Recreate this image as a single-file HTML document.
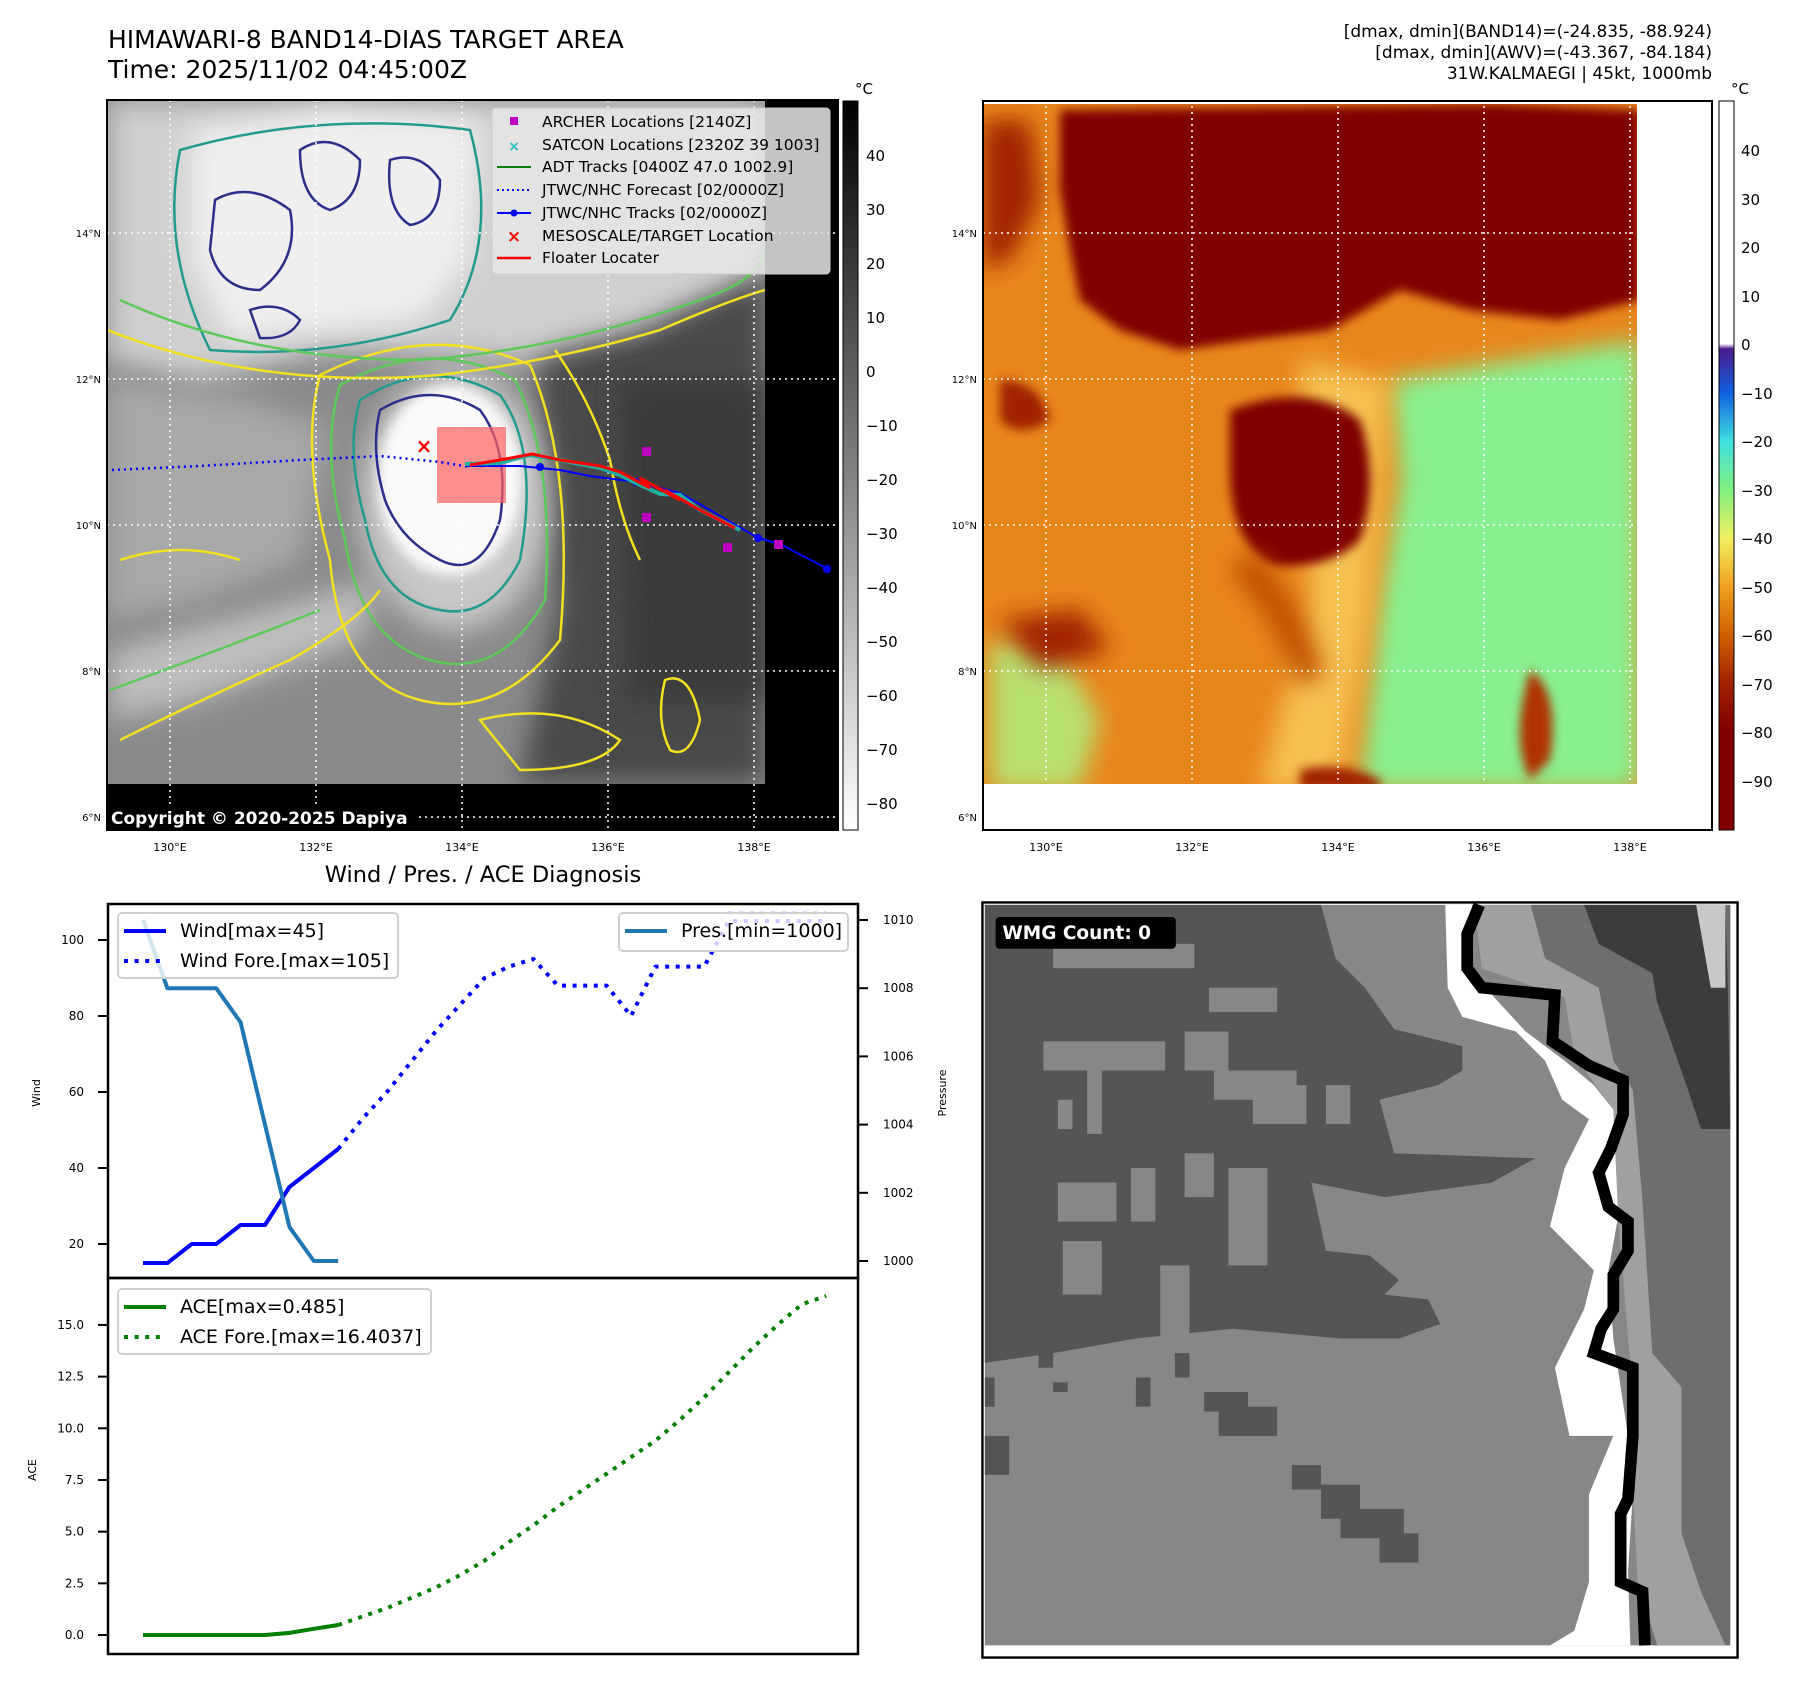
<!DOCTYPE html>
<html><head><meta charset="utf-8">
<style>
html,body{margin:0;padding:0;background:#fff;}
#root{position:relative;width:1801px;height:1690px;overflow:hidden;font-family:"DejaVu Sans","Liberation Sans",sans-serif;color:#000;}
.abs{position:absolute;white-space:nowrap;}
svg{position:absolute;overflow:visible;}
</style></head>
<body>
<div id="root">

<div class="abs" style="left:108px;top:25px;font-size:25px;line-height:30px;">HIMAWARI-8 BAND14-DIAS TARGET AREA<br>Time: 2025/11/02 04:45:00Z</div>
<div class="abs" style="right:89px;top:22px;font-size:17px;line-height:21px;text-align:right;">[dmax, dmin](BAND14)=(-24.835, -88.924)<br>[dmax, dmin](AWV)=(-43.367, -84.184)<br>31W.KALMAEGI | 45kt, 1000mb</div>

<!-- MAP 1 -->
<svg style="left:0;top:0" width="1801" height="900" viewBox="0 0 1801 900">
<defs>
<clipPath id="c1"><rect x="107" y="100" width="658" height="684"/></clipPath>
<filter id="b6" x="-50%" y="-50%" width="200%" height="200%"><feGaussianBlur stdDeviation="6"/></filter>
<filter id="b14" x="-50%" y="-50%" width="200%" height="200%"><feGaussianBlur stdDeviation="14"/></filter>
<linearGradient id="cb1" x1="0" y1="0" x2="0" y2="1"><stop offset="0" stop-color="#000"/><stop offset="1" stop-color="#fff"/></linearGradient>
</defs>
<rect x="107" y="100" width="731" height="730" fill="#000"/>
<g clip-path="url(#c1)">
<rect x="107" y="100" width="658" height="684" fill="#8a8a8a"/>
<path d="M540 300 L765 260 L765 784 L520 784 L560 600 L540 470 Z" fill="#4a4a4a" filter="url(#b14)"/>
<path d="M620 380 L765 380 L765 700 L630 700 Z" fill="#3a3a3a" filter="url(#b14)"/>
<path d="M107 100 L765 100 L765 270 L640 330 L520 360 L330 350 L200 380 L107 360 Z" fill="#cfcfcf" filter="url(#b14)"/>
<path d="M190 130 L330 110 L480 120 L470 260 L420 320 L330 330 L230 340 L190 260 Z" fill="#efefef" filter="url(#b14)"/>
<ellipse cx="455" cy="500" rx="95" ry="130" fill="#c8c8c8" filter="url(#b14)"/>
<ellipse cx="450" cy="480" rx="72" ry="95" fill="#fafafa" filter="url(#b6)"/>
<path d="M110 650 L300 600 L380 580 L360 640 L200 700 L110 720 Z" fill="#bdbdbd" filter="url(#b14)"/>
<path d="M107 380 L250 400 L330 430 L300 560 L200 600 L107 620 Z" fill="#a8a8a8" filter="url(#b14)"/>
<g fill="none" stroke-width="2.5">
<path d="M380 410 Q430 380 480 410 Q510 450 500 520 Q480 580 440 560 Q400 540 385 500 Q370 450 380 410 Z" stroke="#2b2f8a"/>
<path d="M360 400 Q430 355 500 395 Q540 450 520 560 Q490 620 440 610 Q380 600 365 520 Q345 450 360 400 Z" stroke="#239a8e"/>
<path d="M340 385 Q430 335 515 380 Q555 460 545 600 Q500 680 430 660 Q360 640 345 540 Q320 450 340 385 Z" stroke="#5ec85a"/>
<path d="M320 375 Q430 320 530 365 Q575 470 560 640 Q500 720 420 700 Q340 680 330 560 Q300 450 320 375 Z" stroke="#f5e020"/>
<path d="M215 200 Q250 180 290 210 Q300 260 260 290 Q220 290 210 250 Z" stroke="#2b2f8a"/>
<path d="M300 150 Q330 130 360 160 Q360 200 330 210 Q300 200 300 150 Z" stroke="#2b2f8a"/>
<path d="M390 160 Q420 150 440 180 Q440 220 410 225 Q385 210 390 160 Z" stroke="#2b2f8a"/>
<path d="M250 310 Q280 300 300 320 Q290 340 260 338 Z" stroke="#2b2f8a"/>
<path d="M180 150 Q320 110 470 130 Q500 240 450 320 Q330 360 210 350 Q160 250 180 150 Z" stroke="#239a8e"/>
<path d="M120 300 Q250 360 420 360 Q560 350 700 300 Q760 280 765 250" stroke="#5ec85a"/>
<path d="M107 330 Q260 390 440 375 Q560 360 660 330 Q730 300 765 290" stroke="#f5e020"/>
<path d="M555 350 Q590 400 610 460 Q620 520 640 560" stroke="#f5e020"/>
<path d="M120 740 Q200 700 290 660 Q360 620 380 590" stroke="#f5e020"/>
<path d="M110 690 Q220 650 320 610" stroke="#5ec85a"/>
<path d="M480 720 Q560 700 620 740 Q600 770 520 770 Z" stroke="#f5e020"/>
<path d="M665 680 Q690 670 700 720 Q690 760 670 750 Q655 720 665 680 Z" stroke="#f5e020"/>
<path d="M120 560 Q180 540 240 560" stroke="#f5e020"/>
</g>
</g>
<g stroke="#fff" stroke-width="1.5" stroke-dasharray="2 4">
<line x1="170" y1="100" x2="170" y2="830"/><line x1="316" y1="100" x2="316" y2="830"/><line x1="462" y1="100" x2="462" y2="830"/><line x1="608" y1="100" x2="608" y2="830"/><line x1="754" y1="100" x2="754" y2="830"/>
<line x1="107" y1="233" x2="838" y2="233"/><line x1="107" y1="379" x2="838" y2="379"/><line x1="107" y1="525" x2="838" y2="525"/><line x1="107" y1="671" x2="838" y2="671"/><line x1="107" y1="817" x2="838" y2="817"/>
</g>
<rect x="437" y="427" width="69" height="76" fill="#ff6060" opacity="0.7"/>
<path d="M112 470 L200 466 L300 460 L380 456 L440 462 L470 467" fill="none" stroke="#0000ff" stroke-width="2.5" stroke-dasharray="2 4"/>
<path d="M465 466 L520 466 L560 470 L590 476 L636 482 L680 493 L710 510 L758 538 L780 544 L830 570" fill="none" stroke="#0000ff" stroke-width="2"/>
<g fill="#0000ff"><circle cx="540" cy="467" r="4"/><circle cx="636" cy="482" r="4"/><circle cx="758" cy="538" r="4"/><circle cx="827" cy="569" r="4"/></g>
<path d="M465 464 L500 463 L530 455 L560 460 L600 468 L620 475 L640 485 L660 494 L680 495 L700 510 L740 530" fill="none" stroke="#20b0a0" stroke-width="4"/>
<path d="M470 465 L500 460 L532 454 L560 460 L600 466 L620 472 L650 488 L640 478 L680 500 L665 490 L700 510 L735 528" fill="none" stroke="#ff0000" stroke-width="3"/>
<text x="424" y="453" fill="#ff0000" font-size="20" font-weight="bold" text-anchor="middle">×</text>
<g fill="#c000c0"><rect x="642" y="447" width="9" height="9"/><rect x="642" y="513" width="9" height="9"/><rect x="723" y="543" width="9" height="9"/><rect x="774" y="540" width="9" height="9"/></g>
<g>
<rect x="492" y="108" width="338" height="166" rx="4" fill="#e6e6e6" fill-opacity="0.85" stroke="#ccc"/>
<rect x="510" y="117" width="8" height="8" fill="#c000c0"/>
<text x="514" y="151" fill="#20c0c0" font-size="14" font-weight="bold" text-anchor="middle">×</text>
<line x1="497" y1="167" x2="531" y2="167" stroke="#008000" stroke-width="2"/>
<line x1="497" y1="190" x2="531" y2="190" stroke="#0000ff" stroke-width="2" stroke-dasharray="2 3"/>
<line x1="497" y1="213" x2="531" y2="213" stroke="#0000ff" stroke-width="2"/><circle cx="514" cy="213" r="3.5" fill="#0000ff"/>
<text x="514" y="242" fill="#ff0000" font-size="17" font-weight="bold" text-anchor="middle">×</text>
<line x1="497" y1="258" x2="531" y2="258" stroke="#ff0000" stroke-width="2.5"/>
<g font-size="15.5" fill="#000">
<text x="542" y="127">ARCHER Locations [2140Z]</text>
<text x="542" y="150">SATCON Locations [2320Z 39 1003]</text>
<text x="542" y="172">ADT Tracks [0400Z 47.0 1002.9]</text>
<text x="542" y="195">JTWC/NHC Forecast [02/0000Z]</text>
<text x="542" y="218">JTWC/NHC Tracks [02/0000Z]</text>
<text x="542" y="241">MESOSCALE/TARGET Location</text>
<text x="542" y="263">Floater Locater</text>
</g></g>
<rect x="107" y="804" width="310" height="26" fill="#000"/>
<text x="111" y="824" fill="#fff" font-size="17" font-weight="bold">Copyright © 2020-2025 Dapiya</text>
<rect x="107" y="100" width="731" height="730" fill="none" stroke="#000" stroke-width="2"/>
<g font-size="10" text-anchor="end"><text x="101" y="237">14°N</text><text x="101" y="383">12°N</text><text x="101" y="529">10°N</text><text x="101" y="675">8°N</text><text x="101" y="821">6°N</text></g>
<g font-size="11" text-anchor="middle"><text x="170" y="851">130°E</text><text x="316" y="851">132°E</text><text x="462" y="851">134°E</text><text x="608" y="851">136°E</text><text x="754" y="851">138°E</text></g>
<rect x="843" y="101" width="15" height="729" fill="url(#cb1)" stroke="#000" stroke-width="1"/>
<text x="855" y="94" font-size="15">°C</text>
<g font-size="15">
<text x="866" y="161">40</text><text x="866" y="215">30</text><text x="866" y="269">20</text><text x="866" y="323">10</text><text x="866" y="377">0</text><text x="866" y="431">−10</text><text x="866" y="485">−20</text><text x="866" y="539">−30</text><text x="866" y="593">−40</text><text x="866" y="647">−50</text><text x="866" y="701">−60</text><text x="866" y="755">−70</text><text x="866" y="809">−80</text></g>
</svg>

<!-- MAP 2 -->
<svg style="left:0;top:0" width="1801" height="900" viewBox="0 0 1801 900">
<defs>
<clipPath id="c2"><rect x="983" y="104" width="654" height="680"/></clipPath>
<filter id="b2" x="-50%" y="-50%" width="200%" height="200%"><feGaussianBlur stdDeviation="12"/></filter>
<filter id="b3" x="-50%" y="-50%" width="200%" height="200%"><feGaussianBlur stdDeviation="5"/></filter>
<linearGradient id="cb2" x1="0" y1="0" x2="0" y2="1">
<stop offset="0" stop-color="#fff"/><stop offset="0.333" stop-color="#fff"/><stop offset="0.34" stop-color="#4b1a8a"/><stop offset="0.4" stop-color="#1060e0"/><stop offset="0.467" stop-color="#40e0e0"/><stop offset="0.533" stop-color="#80f080"/><stop offset="0.6" stop-color="#f0f060"/><stop offset="0.667" stop-color="#f0a020"/><stop offset="0.733" stop-color="#d06000"/><stop offset="0.8" stop-color="#a02000"/><stop offset="0.867" stop-color="#800000"/><stop offset="1" stop-color="#800000"/></linearGradient>
</defs>
<g clip-path="url(#c2)">
<rect x="983" y="100" width="660" height="690" fill="#e8861a"/>
<path d="M1390 380 L1640 340 L1640 790 L1360 790 L1380 600 L1400 480 Z" fill="#88f090" filter="url(#b2)"/>
<path d="M990 640 L1060 650 L1100 720 L1080 790 L990 790 Z" fill="#b8e070" filter="url(#b2)"/>
<path d="M1300 360 L1390 380 L1370 620 L1340 790 L1260 790 L1310 600 Z" fill="#f6c050" filter="url(#b2)"/>
<path d="M1060 110 L1500 104 L1640 110 L1640 300 L1560 320 L1470 310 L1400 290 L1330 330 L1250 340 L1180 350 L1120 330 L1080 300 L1070 250 L1060 190 Z" fill="#800000" filter="url(#b3)"/>
<path d="M983 120 L1030 120 L1040 200 L1010 260 L983 270 Z" fill="#a02000" filter="url(#b2)"/>
<path d="M1000 380 Q1040 380 1050 420 Q1020 440 1000 420 Z" fill="#a02000" filter="url(#b3)"/>
<path d="M1230 410 Q1310 380 1360 420 Q1380 480 1360 540 Q1330 570 1270 565 Q1230 540 1230 470 Z" fill="#800000" filter="url(#b3)"/>
<path d="M1240 560 Q1290 610 1310 680" fill="none" stroke="#c05000" stroke-width="30" filter="url(#b2)"/>
<path d="M1530 670 Q1560 690 1550 760 L1530 780 Q1510 740 1530 670 Z" fill="#b03000" filter="url(#b3)"/>
<path d="M1000 620 L1080 610 L1110 650 L1040 670 Z" fill="#a02000" filter="url(#b2)"/>
<path d="M1300 770 Q1340 760 1380 780 L1380 790 L1300 790 Z" fill="#a02000" filter="url(#b3)"/>
<rect x="1637" y="100" width="80" height="690" fill="#fff"/>
</g>
<rect x="983" y="784" width="729" height="46" fill="#fff"/>
<g stroke="#fff" stroke-width="1.5" stroke-dasharray="2 4">
<line x1="1046" y1="100" x2="1046" y2="830"/><line x1="1192" y1="100" x2="1192" y2="830"/><line x1="1338" y1="100" x2="1338" y2="830"/><line x1="1484" y1="100" x2="1484" y2="830"/><line x1="1630" y1="100" x2="1630" y2="830"/>
<line x1="983" y1="233" x2="1712" y2="233"/><line x1="983" y1="379" x2="1712" y2="379"/><line x1="983" y1="525" x2="1712" y2="525"/><line x1="983" y1="671" x2="1712" y2="671"/><line x1="983" y1="817" x2="1712" y2="817"/>
</g>
<rect x="983" y="101" width="729" height="729" fill="none" stroke="#000" stroke-width="2"/>
<g font-size="10" text-anchor="end"><text x="977" y="237">14°N</text><text x="977" y="383">12°N</text><text x="977" y="529">10°N</text><text x="977" y="675">8°N</text><text x="977" y="821">6°N</text></g>
<g font-size="11" text-anchor="middle"><text x="1046" y="851">130°E</text><text x="1192" y="851">132°E</text><text x="1338" y="851">134°E</text><text x="1484" y="851">136°E</text><text x="1630" y="851">138°E</text></g>
<rect x="1719" y="101" width="15" height="729" fill="url(#cb2)" stroke="#000" stroke-width="1"/>
<text x="1731" y="94" font-size="15">°C</text>
<g font-size="15">
<text x="1741" y="156">40</text><text x="1741" y="205">30</text><text x="1741" y="253">20</text><text x="1741" y="302">10</text><text x="1741" y="350">0</text><text x="1741" y="399">−10</text><text x="1741" y="447">−20</text><text x="1741" y="496">−30</text><text x="1741" y="544">−40</text><text x="1741" y="593">−50</text><text x="1741" y="641">−60</text><text x="1741" y="690">−70</text><text x="1741" y="738">−80</text><text x="1741" y="787">−90</text></g>
</svg>

<div class="abs" style="left:483px;top:862px;transform:translateX(-50%);font-size:22.5px;">Wind / Pres. / ACE Diagnosis</div>

<!-- WMG panel -->
<svg style="left:980px;top:900px" width="760" height="760" viewBox="0 0 1560 1560">
<rect x="5" y="5" width="1550" height="1550" fill="#fff"/>
<rect x="10" y="10" width="1530" height="1520" fill="#878787"/>
<polygon fill="#555" points="10,10 700,10 730,120 790,180 850,265 990,300 990,350 940,380 820,410 850,520 1140,530 1050,580 830,610 680,580 710,720 800,730 860,780 830,810 920,820 945,870 860,900 740,900 520,880 320,900 150,930 10,950"/>
<g fill="#878787"><rect x="150" y="90" width="290" height="50"/><rect x="470" y="180" width="140" height="50"/><rect x="130" y="290" width="250" height="60"/><rect x="420" y="270" width="90" height="80"/><rect x="480" y="350" width="170" height="60"/><rect x="560" y="380" width="110" height="80"/><rect x="160" y="410" width="30" height="60"/><rect x="220" y="350" width="30" height="130"/><rect x="160" y="580" width="120" height="80"/><rect x="310" y="550" width="50" height="110"/><rect x="420" y="520" width="60" height="90"/><rect x="510" y="550" width="80" height="200"/><rect x="170" y="700" width="80" height="110"/><rect x="370" y="750" width="60" height="150"/><rect x="710" y="380" width="50" height="80"/></g>
<g fill="#555"><rect x="460" y="1010" width="90" height="40"/><rect x="490" y="1040" width="120" height="60"/><rect x="640" y="1160" width="60" height="50"/><rect x="700" y="1200" width="80" height="70"/><rect x="740" y="1250" width="130" height="60"/><rect x="820" y="1300" width="80" height="60"/><rect x="10" y="1100" width="50" height="80"/><rect x="10" y="980" width="20" height="60"/><rect x="120" y="930" width="30" height="30"/><rect x="150" y="990" width="30" height="20"/><rect x="320" y="980" width="30" height="60"/><rect x="400" y="930" width="30" height="50"/></g>
<polygon fill="#6e6e6e" points="1130,10 1540,10 1540,1530 1380,1530 1350,1400 1340,1220 1350,1100 1330,900 1310,650 1300,430 1220,320 1200,200 1160,120"/>
<polygon fill="#a0a0a0" points="1015,10 1130,10 1160,120 1270,180 1300,330 1340,390 1360,620 1380,930 1440,1000 1440,1300 1480,1420 1530,1530 1390,1530 1350,1400 1340,1220 1350,1100 1330,900 1310,650 1300,430 1220,320 1200,200 1030,140"/>
<polygon fill="#3c3c3c" points="1240,10 1530,10 1535,180 1540,470 1480,470 1450,380 1390,210 1380,150 1270,90"/>
<polygon fill="#c8c8c8" points="1470,10 1530,10 1530,180 1500,180"/>
<polygon fill="#fff" points="955,10 1010,10 1010,150 1120,270 1200,330 1260,380 1300,430 1310,650 1290,760 1300,900 1330,1100 1340,1220 1330,1380 1335,1530 1170,1530 1220,1500 1250,1400 1250,1220 1300,1100 1210,1100 1180,960 1240,840 1260,760 1170,670 1200,550 1250,450 1195,410 1160,330 1100,270 990,240 960,180"/>
<polyline fill="none" stroke="#000" stroke-width="24" points="1025,10 1000,70 1000,140 1030,180 1180,195 1175,290 1205,310 1250,340 1320,370 1320,440 1295,510 1270,560 1290,630 1330,660 1330,720 1300,770 1300,840 1275,880 1260,930 1340,960 1340,1100 1330,1230 1315,1260 1315,1400 1360,1420 1365,1530"/>
<rect x="5" y="5" width="1550" height="1550" fill="none" stroke="#000" stroke-width="5"/>
<rect x="32" y="35" width="370" height="65" rx="8" fill="#000"/>
<text x="46" y="80" fill="#fff" font-size="38" font-weight="bold">WMG Count: 0</text>
</svg>

<!-- Wind / Pres / ACE chart -->
<svg id="chart" style="left:0;top:0" width="1801" height="1690" viewBox="0 0 1801 1690"></svg>

<script>
const windObsIdx = [0,1,2,3,4,5,6,7,8];
const windObs = [15,15,20,20,25,25,35,40,45];
const windForeIdx = [8,9,10,11,12,13,14,15,16,17,18,19,20,21,22,23,24,25,26,27,28];
const windFore = [45,53,60,68,76,83,90,93,95,88,88,88,80,93,93,93,105,105,105,105,105];
const presIdx = [0,1,2,3,4,5,6,7,8];
const presObs = [1010,1008,1008,1008,1007,1004,1001,1000,1000];
const presForeIdx = [23,24,25,26,27,28];
const presFore = [1009.6,1010.2,1010.2,1010.2,1010.2,1010.2];
const aceObsIdx = [0,1,2,3,4,5,6,7,8];
const aceObs = [0,0,0,0,0,0,0.1,0.3,0.485];
const aceForeIdx = [8,9,10,11,12,13,14,15,16,17,18,19,20,21,22,23,24,25,26,27,28];
const aceFore = [0.485,0.9,1.3,1.8,2.3,2.9,3.6,4.5,5.3,6.2,7.0,7.8,8.6,9.4,10.4,11.5,12.7,13.9,15.0,16.0,16.4];
const windTicks = [20,40,60,80,100];
const presTicks = [1000,1002,1004,1006,1008,1010];
const aceTicks = [0,2.5,5,7.5,10,12.5,15];

const NS = 'http://www.w3.org/2000/svg';
const svg = document.getElementById('chart');
const X = i => 143 + i * 24.4;
const yW = v => 940 + (100 - v) * 3.8;
const yP = v => 1261 - (v - 1000) * 34.1;
const yA = v => 1635 - v * 20.67;

function mk(tag, attrs, parent) {
  const el = document.createElementNS(NS, tag);
  for (const k in attrs) el.setAttribute(k, attrs[k]);
  (parent || svg).appendChild(el);
  return el;
}
function line(idx, vals, yf, color, dotted, name) {
  const pts = idx.map((i, k) => X(i).toFixed(1) + ',' + yf(vals[k]).toFixed(1)).join(' ');
  const a = {points: pts, fill: 'none', stroke: color, 'stroke-width': 4, 'stroke-linejoin': 'round'};
  if (dotted) a['stroke-dasharray'] = '4 6.6';
  const el = mk('polyline', a);
  
  
  return el;
}
function txt(x, y, s, size, anchor, extra) {
  const t = mk('text', Object.assign({x: x, y: y, 'font-size': size, 'text-anchor': anchor || 'start'}, extra || {}));
  t.textContent = s;
  return t;
}

const f1 = mk('rect', {x: 108, y: 904, width: 750, height: 374, fill: 'none', stroke: '#000', 'stroke-width': 2.5});


const f2 = mk('rect', {x: 108, y: 1278, width: 750, height: 376, fill: 'none', stroke: '#000', 'stroke-width': 2.5});



windTicks.forEach(v => {
  mk('line', {x1: 98, x2: 108, y1: yW(v), y2: yW(v), stroke: '#000', 'stroke-width': 2});
  const t = txt(84, yW(v) + 4, String(v), 12, 'end');
  
  
});
presTicks.forEach(v => {
  mk('line', {x1: 858, x2: 868, y1: yP(v), y2: yP(v), stroke: '#000', 'stroke-width': 2});
  const t = txt(883, yP(v) + 4, String(v), 12, 'start');
  
  
});
aceTicks.forEach(v => {
  mk('line', {x1: 98, x2: 108, y1: yA(v), y2: yA(v), stroke: '#000', 'stroke-width': 2});
  const t = txt(84, yA(v) + 4, v.toFixed(1), 12, 'end');
  
  
});
const yl1 = txt(0, 0, 'Wind', 11, 'middle', {transform: 'translate(40,1093) rotate(-90)'});


const yl2 = txt(0, 0, 'Pressure', 11, 'middle', {transform: 'translate(946,1093) rotate(-90)'});


const yl3 = txt(0, 0, 'ACE', 11, 'middle', {transform: 'translate(36,1470) rotate(-90)'});



line(presForeIdx, presFore, yP, '#c8d0ff', true, 'pressure-forecast-line');
line(windForeIdx, windFore, yW, '#0000ff', true, 'wind-forecast-line');
line(windObsIdx, windObs, yW, '#0000ff', false, 'wind-line');
line(presIdx, presObs, yP, '#1f77b4', false, 'pressure-line');
line(aceForeIdx, aceFore, yA, '#008000', true, 'ace-forecast-line');
line(aceObsIdx, aceObs, yA, '#008000', false, 'ace-line');

function legendBox(x, y, w, h, name) {
  const r = mk('rect', {x: x, y: y, width: w, height: h, rx: 4, fill: '#fff', 'fill-opacity': 0.8, stroke: '#d0d0d0', 'stroke-width': 2});
  
  
}
legendBox(118, 913, 280, 65, 'wind-legend');
mk('line', {x1: 124, x2: 166, y1: 931, y2: 931, stroke: '#0000ff', 'stroke-width': 4});
mk('line', {x1: 124, x2: 166, y1: 961, y2: 961, stroke: '#0000ff', 'stroke-width': 4, 'stroke-dasharray': '4 6.6'});
txt(180, 937, 'Wind[max=45]', 19);
txt(180, 967, 'Wind Fore.[max=105]', 19);
legendBox(619, 913, 229, 38, 'pressure-legend');
mk('line', {x1: 625, x2: 667, y1: 931, y2: 931, stroke: '#1f77b4', 'stroke-width': 4});
txt(681, 937, 'Pres.[min=1000]', 19);
legendBox(118, 1289, 313, 65, 'ace-legend');
mk('line', {x1: 124, x2: 166, y1: 1307, y2: 1307, stroke: '#008000', 'stroke-width': 4});
mk('line', {x1: 124, x2: 166, y1: 1337, y2: 1337, stroke: '#008000', 'stroke-width': 4, 'stroke-dasharray': '4 6.6'});
txt(180, 1313, 'ACE[max=0.485]', 19);
txt(180, 1343, 'ACE Fore.[max=16.4037]', 19);
</script>
</div>
</body></html>
